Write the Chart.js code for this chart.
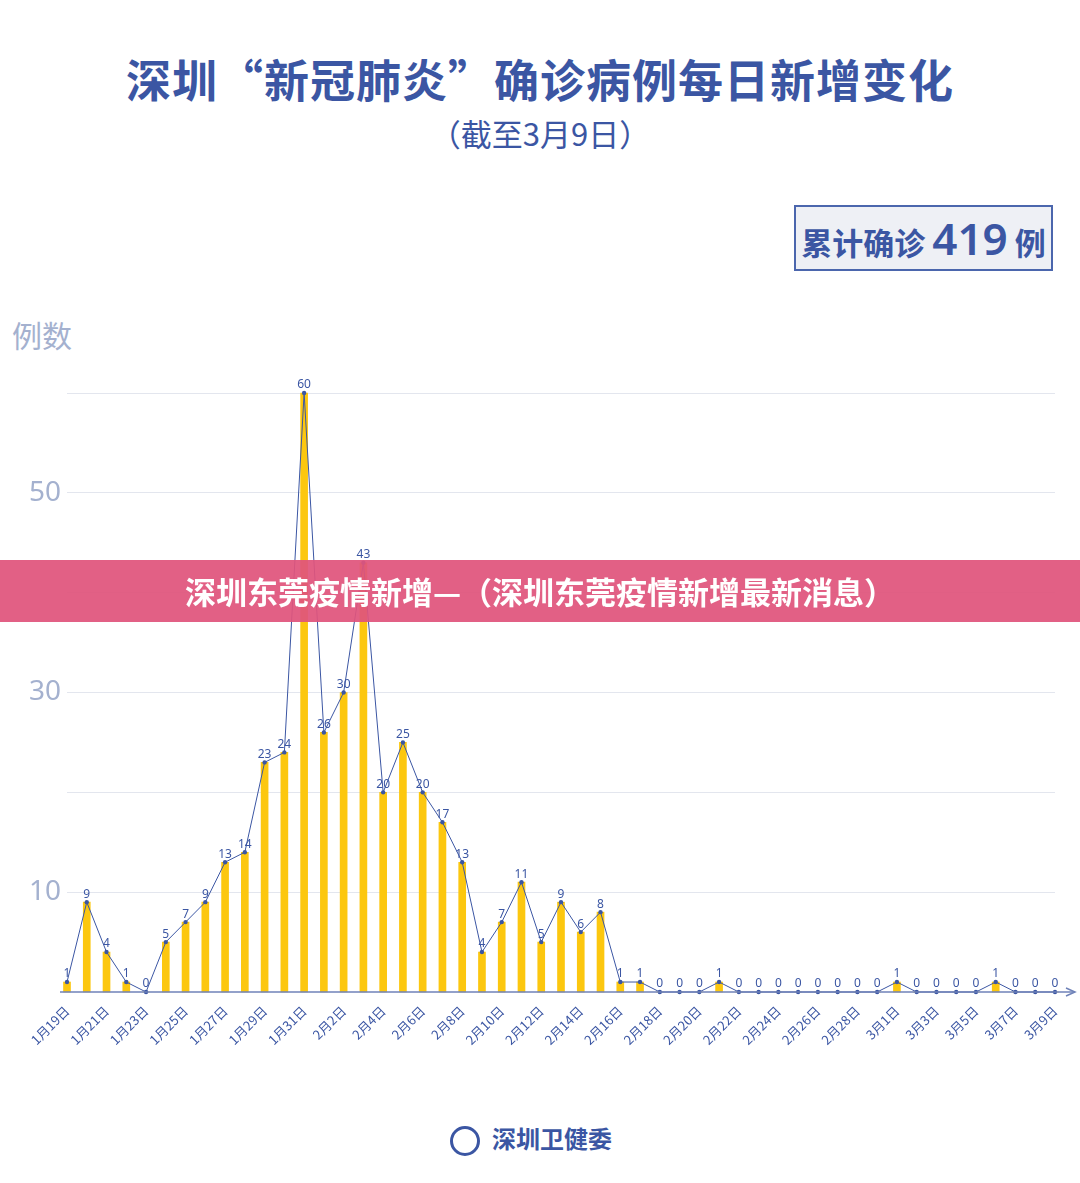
<!DOCTYPE html>
<html><head><meta charset="utf-8">
<script src="https://cdn.jsdelivr.net/npm/chart.js@4"></script>
<style>
  body { margin:0; width:1080px; height:1183px; background:#fff; position:relative; overflow:hidden;
         font-family:"Noto Sans CJK SC","Noto Sans",sans-serif; }
  .abs { position:absolute; }
  #title { top:46px; left:0; width:1080px; text-align:center; font-size:45px; font-weight:bold; color:#3b56a3; letter-spacing:1px; }
  #sub { top:110px; left:0; width:1080px; text-align:center; font-size:31px; color:#3b56a3; }
  #box { left:794px; top:205px; width:255px; height:62px; background:#eef0f5; border:2px solid #4b66ad;
         color:#3b56a3; font-weight:bold; font-size:31px; line-height:62px; text-align:center; }
  #box b { font-size:44px; font-family:"Noto Sans",sans-serif; font-weight:600; }
  #unit { left:12px; top:312px; font-size:30px; color:#a4b1cf; }
  #banner { left:0; top:560px; width:1080px; height:62px; background:rgba(224,84,124,0.93); color:#fff;
            font-weight:bold; font-size:31px; line-height:62px; text-align:center; z-index:5; }
  #foot { left:450px; top:1120px; font-size:24px; font-weight:bold; color:#3b56a3; }
  #foot i { display:inline-block; width:30px; height:30px; border-radius:50%; border:3px solid #3b56a3;
            vertical-align:middle; margin-right:12px; box-sizing:border-box; }
  #wrap { left:0; top:300px; width:1080px; height:780px; }
</style></head><body>
<div id="title" class="abs">深圳“新冠肺炎”确诊病例每日新增变化</div>
<div id="sub" class="abs">（截至3月9日）</div>
<div id="box" class="abs">累计确诊 <b>419</b> 例</div>
<div id="unit" class="abs">例数</div>
<div id="wrap" class="abs"><canvas id="c" width="1080" height="780"></canvas></div>
<div id="banner" class="abs">深圳东莞疫情新增—（深圳东莞疫情新增最新消息）</div>
<div id="foot" class="abs"><i></i>深圳卫健委</div>
<script>
const dates = [
  '1月19日','1月20日','1月21日','1月22日','1月23日','1月24日','1月25日','1月26日','1月27日','1月28日',
  '1月29日','1月30日','1月31日','2月1日','2月2日','2月3日','2月4日','2月5日','2月6日','2月7日',
  '2月8日','2月9日','2月10日','2月11日','2月12日','2月13日','2月14日','2月15日','2月16日','2月17日',
  '2月18日','2月19日','2月20日','2月21日','2月22日','2月23日','2月24日','2月25日','2月26日','2月27日',
  '2月28日','2月29日','3月1日','3月2日','3月3日','3月4日','3月5日','3月6日','3月7日','3月8日','3月9日'
]
const newCases = [
  1,9,4,1,0,5,7,9,13,14,
  23,24,60,26,30,43,20,25,20,17,
  13,4,7,11,5,9,6,8,1,1,
  0,0,0,1,0,0,0,0,0,0,
  0,0,1,0,0,0,0,1,0,0,0
]
const yLabels = [10, 30, 50]

const blue = '#3b56a3'

const decor = {
  id: 'decor',
  afterDatasetsDraw(chart) {
    const ctx = chart.ctx, a = chart.chartArea
    // axis line with arrow
    ctx.save()
    ctx.strokeStyle = '#6f82b8'; ctx.lineWidth = 1.5
    ctx.beginPath(); ctx.moveTo(60, a.bottom); ctx.lineTo(1074, a.bottom); ctx.stroke()
    ctx.beginPath(); ctx.moveTo(1066, a.bottom - 4); ctx.lineTo(1075, a.bottom); ctx.lineTo(1066, a.bottom + 4); ctx.stroke()
    // value labels
    const meta = chart.getDatasetMeta(1)
    ctx.fillStyle = blue; ctx.font = '12px "Noto Sans", sans-serif'
    ctx.textAlign = 'center'; ctx.textBaseline = 'bottom'
    meta.data.forEach((p, i) => ctx.fillText(String(newCases[i]), p.x, p.y - 2))
    ctx.restore()
  }
}

new Chart(document.getElementById('c'), {
  data: {
    labels: dates,
    datasets: [
      { type: 'line', data: newCases, borderColor: blue, borderWidth: 1, pointRadius: 2.2,
        pointBackgroundColor: blue, pointBorderWidth: 0, tension: 0, order: 0, clip: false },
      { type: 'bar', data: newCases, backgroundColor: '#fcc70f', barThickness: 7, order: 1, clip: false }
    ]
  },
  options: {
    responsive: false, animation: false,
    layout: { padding: { top: 93, right: 25, left: 0, bottom: 0 } },
    plugins: { legend: { display: false }, tooltip: { enabled: false } },
    scales: {
      x: {
        offset: false,
        grid: { display: false }, border: { display: false },
        afterFit(s) { s.height = 88 },
        ticks: {
          autoSkip: false, maxRotation: 45, minRotation: 45, color: blue,
          font: { size: 13, family: '"Noto Sans CJK SC", sans-serif' },
          callback(v, i) { return i % 2 === 0 ? dates[i] : '' }
        }
      },
      y: {
        min: 0, max: 60,
        afterFit(s) { s.width = 67 },
        border: { display: false },
        grid: { color: '#e3e6ee', drawTicks: false, lineWidth: ctx => ctx.tick.value === 0 ? 0 : 1 },
        ticks: {
          stepSize: 10, padding: 6, color: '#a4b1cf',
          font: { size: 28, family: '"Noto Sans", sans-serif' },
          callback(v) { return yLabels.includes(v) ? String(v) : '' }
        }
      }
    }
  },
  plugins: [decor]
})
</script>
</body></html>
